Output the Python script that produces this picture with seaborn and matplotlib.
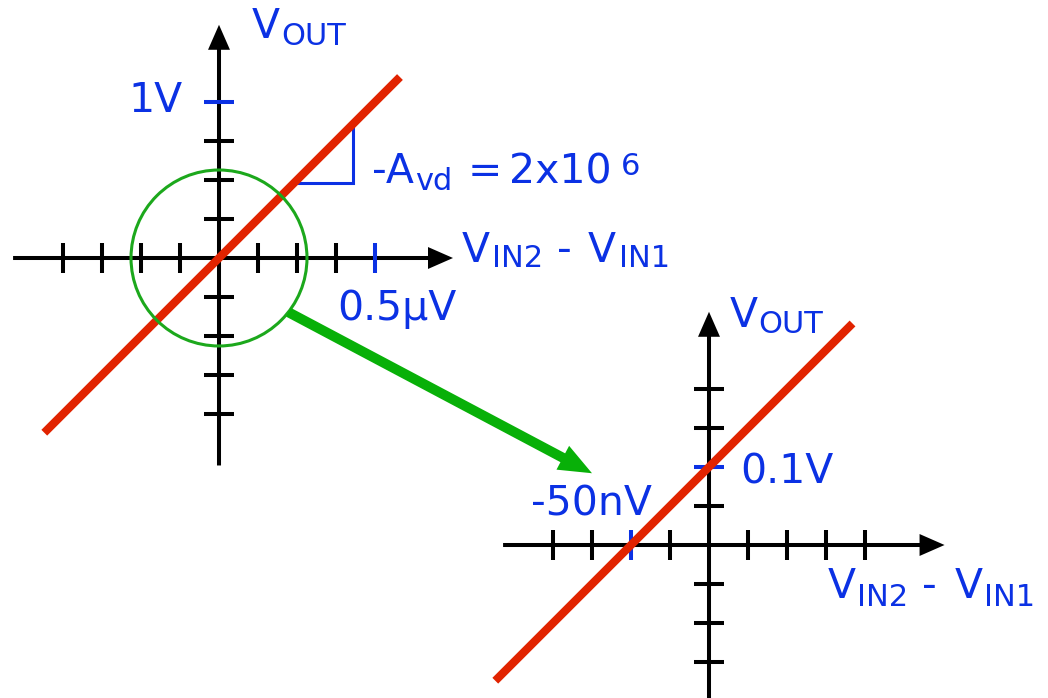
import numpy as np
import pandas as pd
import matplotlib
matplotlib.use("Agg")
import matplotlib.pyplot as plt
import seaborn as sns
from matplotlib.patches import Ellipse, ConnectionPatch

# ---------------- data ----------------
GAIN = 2e6            # -A_vd, differential gain
VOS_NV = 50.0         # input offset of the zoomed curve, nV (output crosses 0 at -50 nV)

# overview: V_IN2 - V_IN1 in µV, V_OUT in V
wide_xticks = [-0.5, -0.375, -0.25, -0.125, 0.125, 0.25, 0.375, 0.5]
wide_yticks = [-1.0, -0.75, -0.5, -0.25, 0.25, 0.5, 0.75, 1.0]
wide_xmark = 0.5
wide_ymark = 1.0
wide_vin_uv = [-0.56, 0.58]
wide_xaxis = (-0.66, 0.75)
wide_yaxis = (-1.33, 1.495)
slope_vin_uv = [0.24, 0.43]        # legs of the slope triangle
circle_r_uv = 0.282                 # highlighted region around the origin

# zoomed view: V_IN2 - V_IN1 in nV, V_OUT in V
zoom_xticks = [-100, -75, -50, -25, 25, 50, 75, 100]
zoom_yticks = [-0.15, -0.10, -0.05, 0.05, 0.10, 0.15, 0.20]
zoom_xmark = -50
zoom_ymark = 0.1
zoom_vin_nv = [-137, 92]
zoom_xaxis = (-132, 151)
zoom_yaxis = (-0.2, 0.299)
zoom_arrow_to = (-75, 0.092)
zoom_arrow_angle = -38.0

# ---------------- style ----------------
BLUE = "#0b31e4"
RED = "#e12300"
GREEN_ARROW = "#08b008"
GREEN_RING = "#1ca81c"
BLACK = "#000000"

sns.set_style("white")
plt.rcParams["font.family"] = ["DejaVu Sans"]

W, H, DPI = 1048, 698, 100
fig = plt.figure(figsize=(W / DPI, H / DPI), dpi=DPI)
fig.patch.set_facecolor("white")


def panel(origin, sx, sy, box):
    """Axes whose data (0,0) sits at pixel `origin`, sx/sy pixels per unit."""
    l, t, r, b = box
    ax = fig.add_axes([l / W, 1 - b / H, (r - l) / W, (b - t) / H])
    ax.set_xlim((l - origin[0]) / sx, (r - origin[0]) / sx)
    ax.set_ylim((origin[1] - b) / sy, (origin[1] - t) / sy)
    ax.set_axis_off()
    ax.patch.set_alpha(0)
    return ax


def axis_arrow(ax, start, end):
    ax.annotate(
        "", xy=end, xytext=start, xycoords="data", textcoords="data",
        annotation_clip=False,
        arrowprops=dict(arrowstyle="simple,head_length=1.8,head_width=1.58,tail_width=0.29",
                        mutation_scale=10, fc=BLACK, ec="none", lw=0,
                        shrinkA=0, shrinkB=0),
        zorder=1,
    )


def draw_axes(ax, xaxis, yaxis, xticks, yticks, xmark, ymark):
    axis_arrow(ax, (xaxis[0], 0), (xaxis[1], 0))
    axis_arrow(ax, (0, yaxis[0]), (0, yaxis[1]))
    xt = [v for v in xticks if v != xmark]
    yt = [v for v in yticks if v != ymark]
    ax.plot(xt, np.zeros(len(xt)), ls="none", marker="|", ms=21, mew=2.9, color=BLACK, zorder=2)
    ax.plot(np.zeros(len(yt)), yt, ls="none", marker="_", ms=21, mew=2.9, color=BLACK, zorder=2)
    ax.plot([xmark], [0], ls="none", marker="|", ms=21, mew=2.9, color=BLUE, zorder=2)
    ax.plot([0], [ymark], ls="none", marker="_", ms=21, mew=2.9, color=BLUE, zorder=2)


# ---------------- overview panel ----------------
axL = panel((219, 258), 312.0, 156.0, (0, 0, 480, 480))
draw_axes(axL, wide_xaxis, wide_yaxis, wide_xticks, wide_yticks, wide_xmark, wide_ymark)

wide_df = pd.DataFrame({"vin": wide_vin_uv})
wide_df["vout"] = GAIN * wide_df["vin"] * 1e-6
sns.lineplot(data=wide_df, x="vin", y="vout", ax=axL, color=RED, lw=5.9,
             solid_capstyle="butt", zorder=4, legend=False)

# slope triangle
a, b = slope_vin_uv
ya, yb = GAIN * a * 1e-6, GAIN * b * 1e-6
axL.plot([a, b, b], [ya, ya, yb], color=BLUE, lw=2.2, solid_joinstyle="miter", zorder=3)

# highlighted circle
ring = Ellipse((0, 0), 2 * circle_r_uv, 2 * circle_r_uv * 312.0 / 156.0,
               fill=False, ec=GREEN_RING, lw=2.2, zorder=5)
axL.add_patch(ring)

axL.set_xlabel("")
axL.set_ylabel("")

# ---------------- zoomed panel ----------------
axR = panel((709, 545), 39 / 25.0, 39 / 0.05, (480, 290, 1048, 698))
draw_axes(axR, zoom_xaxis, zoom_yaxis, zoom_xticks, zoom_yticks, zoom_xmark, zoom_ymark)

zoom_df = pd.DataFrame({"vin": zoom_vin_nv})
zoom_df["vout"] = GAIN * (zoom_df["vin"] + VOS_NV) * 1e-9
sns.lineplot(data=zoom_df, x="vin", y="vout", ax=axR, color=RED, lw=5.9,
             solid_capstyle="butt", zorder=4, legend=False)
axR.set_xlabel("")
axR.set_ylabel("")

# ---------------- arrow from the circle to the zoomed view ----------------
th = np.deg2rad(zoom_arrow_angle)
start = (circle_r_uv * np.cos(th), circle_r_uv * 312.0 / 156.0 * np.sin(th))
con = ConnectionPatch(xyA=start, coordsA=axL.transData,
                      xyB=zoom_arrow_to, coordsB=axR.transData,
                      arrowstyle="simple,head_length=1.19,head_width=0.97,tail_width=0.36",
                      mutation_scale=20, fc=GREEN_ARROW, ec="none", lw=0,
                      shrinkA=0, shrinkB=0, zorder=6)
fig.add_artist(con)

# ---------------- labels ----------------
BIG, SUB = 29.5, 22.0


def txt(x, y, s, size=BIG, ha="left"):
    fig.text(x / W, 1 - y / H, s, fontsize=size, color=BLUE, ha=ha, va="baseline")


# overview
txt(252, 38, "V")
txt(281, 45, "OUT", SUB)
txt(183, 112, "1V", ha="right")
txt(372, 183, "-A")
txt(415, 190, "vd", SUB)
txt(468, 183, "=")
txt(509, 183, "2x10")
txt(621, 175, "6", SUB)
txt(462, 262, "V")
txt(492, 267, "IN2", SUB)
txt(557, 262, "-")
txt(588, 262, "V")
txt(619, 267, "IN1", SUB)
txt(337, 320, "0.5µV")

# zoomed
txt(730, 327, "V")
txt(758, 333, "OUT", SUB)
txt(740, 483, "0.1V")
txt(531, 515, "-50nV")
txt(828, 598, "V")
txt(857, 606, "IN2", SUB)
txt(922, 598, "-")
txt(955, 598, "V")
txt(984, 606, "IN1", SUB)

fig.savefig("out.png", dpi=DPI, facecolor="white")
